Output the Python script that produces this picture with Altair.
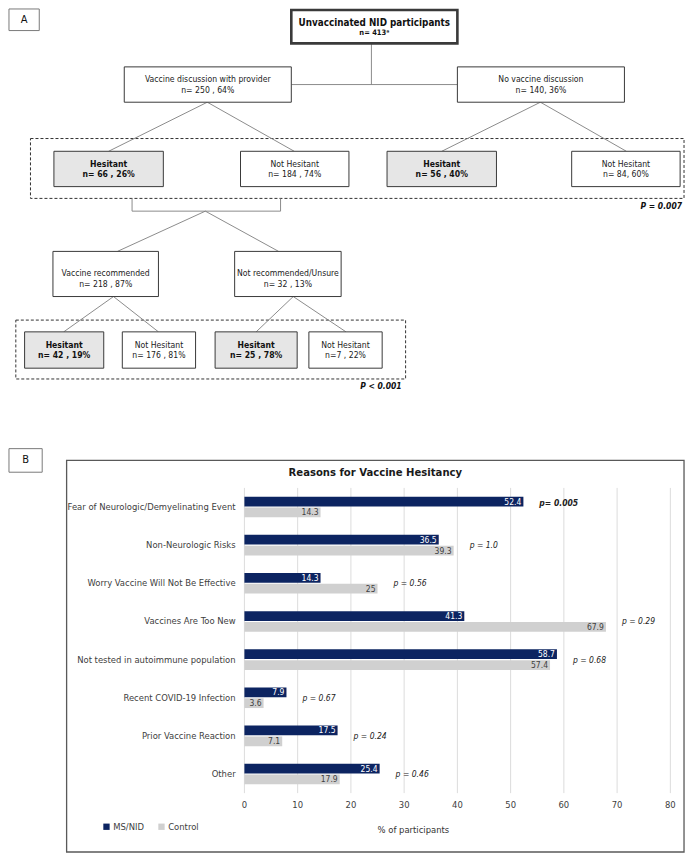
import altair as alt
import pandas as pd

FONT = "'Liberation Sans Narrow', 'DejaVu Sans Condensed', 'Liberation Sans', Arial, sans-serif"
REF_W, REF_H = 693, 861
W, H = 677, 845


def px(v):
    return v * W / REF_W


def py(v):
    return v * H / REF_H


# ---------------- Panel A values ----------------
node_ids = ["top", "disc", "nodisc", "h1", "nh1", "h2", "nh2",
            "rec", "notrec", "h3", "nh3", "h4", "nh4"]
node_titles = ["Unvaccinated NID participants", "Vaccine discussion with provider",
               "No vaccine discussion", "Hesitant", "Not Hesitant", "Hesitant",
               "Not Hesitant", "Vaccine recommended", "Not recommended/Unsure",
               "Hesitant", "Not Hesitant", "Hesitant", "Not Hesitant"]
node_counts = ["n= 413\u1d43", "n= 250 , 64%", "n= 140, 36%", "n= 66 , 26%",
               "n= 184 , 74%", "n= 56 , 40%", "n= 84, 60%", "n= 218 , 87%",
               "n= 32 , 13%", "n= 42 , 19%", "n= 176 , 81%", "n= 25 , 78%",
               "n=7 , 22%"]
node_hesitant = [False, False, False, True, False, True, False,
                 False, False, True, False, True, False]
test_pvalues = ["P = 0.007", "P < 0.001"]

# ---------------- Panel B values ----------------
reasons = ["Fear of Neurologic/Demyelinating Event", "Non-Neurologic Risks",
           "Worry Vaccine Will Not Be Effective", "Vaccines Are Too New",
           "Not tested in autoimmune population", "Recent COVID-19 Infection",
           "Prior Vaccine Reaction", "Other"]
ms_nid = [52.4, 36.5, 14.3, 41.3, 58.7, 7.9, 17.5, 25.4]
control = [14.3, 39.3, 25, 67.9, 57.4, 3.6, 7.1, 17.9]
p_text = ["p= 0.005", "p = 1.0", "p = 0.56", "p = 0.29", "p = 0.68",
          "p = 0.67", "p = 0.24", "p = 0.46"]
p_significant = [True, False, False, False, False, False, False, False]
groups = ["MS/NID", "Control"]
x_ticks = [0, 10, 20, 30, 40, 50, 60, 70, 80]

# ---------------- layout (reference pixel space) ----------------
BOX = {
    "top": (290, 460, 2, 36), "disc": (119, 290, 60, 96), "nodisc": (460, 631, 60, 96),
    "h1": (47, 159, 146, 182), "nh1": (238, 349, 146, 182),
    "h2": (388, 500, 146, 182), "nh2": (577, 688, 146, 182),
    "rec": (46, 154, 248, 294), "notrec": (232, 341, 248, 294),
    "h3": (17, 98, 330, 367), "nh3": (117, 192, 330, 367),
    "h4": (212, 296, 330, 367), "nh4": (308, 383, 330, 367),
}
TEXT_Y = {"top": (15, 25.5), "rec": (270, 281), "notrec": (270, 281)}
LINKS = [(372, 36, 372, 78), (290, 78, 460, 78),
         (204, 96, 103, 146), (204, 96, 293, 146),
         (545, 96, 444, 146), (545, 96, 633, 146),
         (127, 194, 127, 207), (127, 207, 279, 207), (279, 207, 279, 194),
         (202, 207, 112, 248), (202, 207, 277, 248),
         (108, 294, 57, 330), (108, 294, 154, 330),
         (292, 294, 254, 330), (292, 294, 346, 330)]
DASHED = [(23, 692, 133, 194), (8, 407, 318, 378)]
P_POS = [(690, 202), (403, 385)]
PLAIN_BOXES = [(1, 32, 1, 23), (1, 35, 449, 473)]
PANEL_LETTERS = [("A", 16.5, 12), ("B", 18, 461)]
FRAME = (60, 692, 461, 860)

FS_NODE, FS_TOP1, FS_TOP2 = 8.6, 9.8, 7.5
FS_LABEL, FS_SMALL = 9.4, 8.5

XS = alt.Scale(domain=[0, REF_W], nice=False, zero=False)
YS = alt.Scale(domain=[0, REF_H], nice=False, zero=False, reverse=True)

# node table
rows, trows = [], []
for i, nid in enumerate(node_ids):
    x1, x2, y1, y2 = BOX[nid]
    rows.append(dict(x=x1, x2=x2, y=y1, y2=y2,
                     fill="#e6e6e6" if node_hesitant[i] else "white",
                     sw=2.6 if nid == "top" else 1.0))
    cy = (y1 + y2) / 2
    ty1, ty2 = TEXT_Y.get(nid, (cy - 5.5, cy + 5.5))
    bold = node_hesitant[i] or nid == "top"
    fs1, fs2 = (FS_TOP1, FS_TOP2) if nid == "top" else (FS_NODE, FS_NODE)
    trows.append(dict(x=(x1 + x2) / 2, y=ty1, t=node_titles[i], fs=fs1, bold=bold))
    trows.append(dict(x=(x1 + x2) / 2, y=ty2, t=node_counts[i], fs=fs2, bold=bold))
nodes_df = pd.DataFrame(rows)
ntext_df = pd.DataFrame(trows)

links_df = pd.DataFrame(LINKS, columns=["x", "y", "x2", "y2"])
dashed_df = pd.DataFrame(DASHED, columns=["x", "x2", "y", "y2"])
ptest_df = pd.DataFrame({"x": [p[0] for p in P_POS], "y": [p[1] for p in P_POS],
                         "t": test_pvalues})
plain_df = pd.DataFrame(PLAIN_BOXES, columns=["x", "x2", "y", "y2"])
letters_df = pd.DataFrame(PANEL_LETTERS, columns=["t", "x", "y"])
frame_df = pd.DataFrame([FRAME], columns=["x", "x2", "y", "y2"])
chrome_text_df = pd.DataFrame({
    "t": ["Reasons for Vaccine Hesitancy", "% of participants"],
    "x": [376, 415], "y": [474, 838], "fs": [11.2, FS_LABEL], "bold": [True, False]})


def rect_enc(ch):
    return ch.encode(x=alt.X("x:Q", scale=XS, axis=None), x2="x2:Q",
                     y=alt.Y("y:Q", scale=YS, axis=None), y2="y2:Q")


def pt_enc(ch):
    return ch.encode(x=alt.X("x:Q", scale=XS, axis=None),
                     y=alt.Y("y:Q", scale=YS, axis=None))


links = alt.Chart(links_df).mark_rule(color="#7f7f7f", strokeWidth=0.9).encode(
    x=alt.X("x:Q", scale=XS, axis=None), y=alt.Y("y:Q", scale=YS, axis=None),
    x2="x2:Q", y2="y2:Q")
dashed = rect_enc(alt.Chart(dashed_df).mark_rect(
    fill="white", fillOpacity=0, stroke="#333333", strokeWidth=1, strokeDash=[3, 2]))
nodes = rect_enc(alt.Chart(nodes_df).mark_rect(stroke="#3a3a3a")).encode(
    fill=alt.Fill("fill:N", scale=None),
    strokeWidth=alt.StrokeWidth("sw:Q", scale=None))
plain = rect_enc(alt.Chart(plain_df).mark_rect(
    fill="white", stroke="#7a7a7a", strokeWidth=1))
frame = rect_enc(alt.Chart(frame_df).mark_rect(
    fill="white", fillOpacity=0, stroke="#595959", strokeWidth=1.3))

ntext_bold = pt_enc(alt.Chart(ntext_df).transform_filter("datum.bold").mark_text(
    font=FONT, fontWeight="bold", color="#111111", baseline="middle")).encode(
    text="t:N", size=alt.Size("fs:Q", scale=None))
ntext_norm = pt_enc(alt.Chart(ntext_df).transform_filter("!datum.bold").mark_text(
    font=FONT, color="#222222", baseline="middle")).encode(
    text="t:N", size=alt.Size("fs:Q", scale=None))
ptest = pt_enc(alt.Chart(ptest_df).mark_text(
    font=FONT, fontWeight="bold", fontStyle="italic", fontSize=FS_SMALL, align="right",
    baseline="middle", color="#111111")).encode(text="t:N")
letters = pt_enc(alt.Chart(letters_df).mark_text(
    font=FONT, fontSize=11, baseline="middle", color="#111111")).encode(text="t:N")
chrome_bold = pt_enc(alt.Chart(chrome_text_df).transform_filter("datum.bold").mark_text(
    font=FONT, fontWeight="bold", baseline="middle", color="#1a1a1a")).encode(
    text="t:N", size=alt.Size("fs:Q", scale=None))
chrome_norm = pt_enc(alt.Chart(chrome_text_df).transform_filter("!datum.bold").mark_text(
    font=FONT, baseline="middle", color="#333333")).encode(
    text="t:N", size=alt.Size("fs:Q", scale=None))

flow = alt.layer(plain, frame, dashed, links, nodes, ntext_bold, ntext_norm,
                 ptest, letters, chrome_bold, chrome_norm)

# ---------------- Panel B bars ----------------
bar_df = pd.DataFrame({
    "cat": reasons * 2,
    "group": [groups[0]] * len(reasons) + [groups[1]] * len(reasons),
    "value": ms_nid + control,
})
bar_df["label"] = bar_df["value"].map(lambda v: f"{v:g}")
p_df = pd.DataFrame({"cat": reasons, "ptext": p_text, "sig": p_significant,
                     "ms": ms_nid, "ctl": control})
tick_df = pd.DataFrame({"t": x_ticks})

XB = alt.Scale(domain=[0, 80], range=[px(242), px(678)], nice=False)
YB = alt.Scale(domain=reasons, range=[py(489), py(800)],
               paddingInner=0.46, paddingOuter=0.23)
YO = alt.Scale(domain=groups, paddingInner=0.1)
NAVY, GREY = "#0c2461", "#d0d0d0"

grid = alt.Chart(tick_df).mark_rule(color="#dcdcdc", strokeWidth=1).encode(
    x=alt.X("t:Q", scale=XB, axis=None),
    y=alt.value(py(489)), y2=alt.value(py(800)))
tick_labels = alt.Chart(tick_df).mark_text(
    font=FONT, fontSize=FS_LABEL, color="#404040", baseline="middle").encode(
    x=alt.X("t:Q", scale=XB, axis=None), y=alt.value(py(812)), text="t:Q")
cat_labels = alt.Chart(pd.DataFrame({"cat": reasons})).mark_text(
    font=FONT, fontSize=FS_LABEL, color="#404040", align="right", baseline="middle").encode(
    y=alt.Y("cat:N", scale=YB, sort=reasons, axis=None),
    x=alt.value(px(233)), text="cat:N")

bars = alt.Chart(bar_df).mark_bar().encode(
    x=alt.X("value:Q", scale=XB, axis=None),
    y=alt.Y("cat:N", scale=YB, sort=reasons, axis=None),
    yOffset=alt.YOffset("group:N", scale=YO, sort=groups),
    color=alt.Color("group:N", scale=alt.Scale(domain=groups, range=[NAVY, GREY]),
                    legend=alt.Legend(orient="none", legendX=px(96), legendY=py(829),
                                      direction="horizontal", title=None,
                                      symbolType="square", symbolSize=40,
                                      symbolStrokeWidth=0, labelFont=FONT,
                                      labelFontSize=FS_LABEL, labelColor="#404040",
                                      columnPadding=12, labelOffset=2, padding=0)),
)


def val_text(group, color):
    return alt.Chart(bar_df).transform_filter(
        alt.datum.group == group).mark_text(
        font=FONT, fontSize=FS_SMALL, align="right", baseline="middle", dx=-2,
        color=color).encode(
        x=alt.X("value:Q", scale=XB, axis=None),
        y=alt.Y("cat:N", scale=YB, sort=reasons, axis=None),
        yOffset=alt.YOffset("group:N", scale=YO, sort=groups),
        text="label:N")


def p_layer(sig):
    return alt.Chart(p_df).transform_filter(
        "datum.sig" if sig else "!datum.sig").transform_calculate(
        xpos="max(datum.ms, datum.ctl) + 3").mark_text(
        font=FONT, fontSize=FS_SMALL, fontStyle="italic",
        fontWeight="bold" if sig else "normal", align="left", baseline="middle",
        dy=-4 if sig else 0, color="#222222").encode(
        x=alt.X("xpos:Q", scale=XB, axis=None),
        y=alt.Y("cat:N", scale=YB, sort=reasons, axis=None),
        text="ptext:N")


barpanel = alt.layer(grid, bars, val_text(groups[0], "white"),
                     val_text(groups[1], "#404040"), p_layer(True), p_layer(False),
                     tick_labels, cat_labels)

chart = alt.layer(flow, barpanel).resolve_scale(
    x="independent", y="independent"
).properties(width=W, height=H, padding=0).configure_view(stroke=None)

chart.save("out.html", embed_options={"renderer": "svg", "actions": False})
